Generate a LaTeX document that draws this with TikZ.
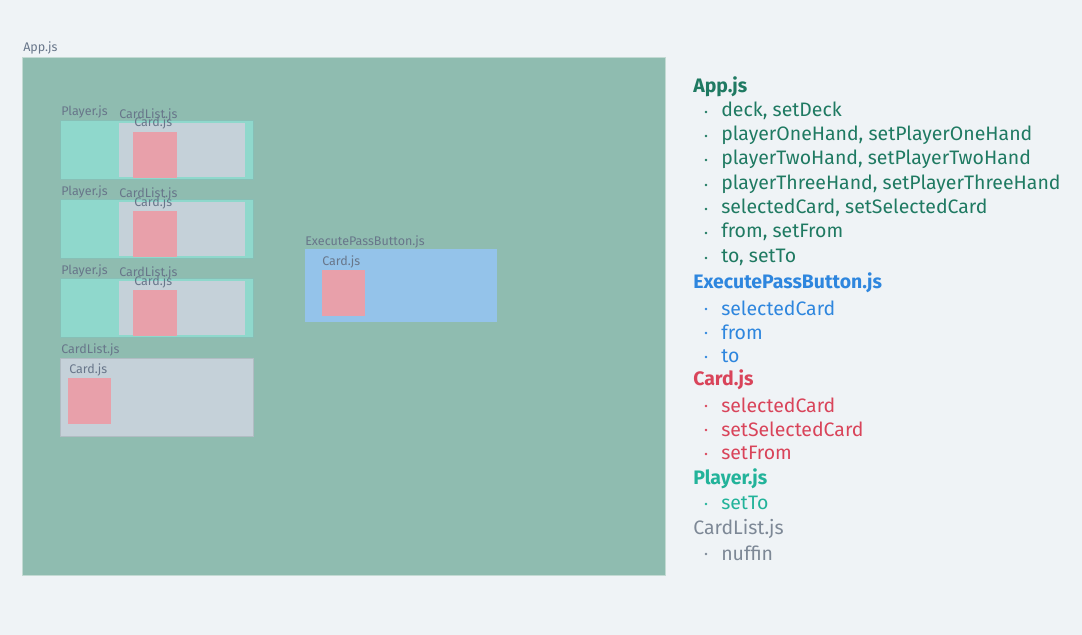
\documentclass[tikz,border=0pt]{standalone}
\usepackage{fontspec}
\setmainfont{Fira Sans}
\definecolor{pagebg}{HTML}{EFF3F6}
\definecolor{appfill}{HTML}{8FBCB0}
\definecolor{appline}{HTML}{C3DAD3}
\definecolor{playerfill}{HTML}{8FD8CC}
\definecolor{listfill}{HTML}{C5D1D9}
\definecolor{cardfill}{HTML}{E8A0AA}
\definecolor{buttonfill}{HTML}{94C3EA}
\definecolor{tagtext}{HTML}{68768A}
\definecolor{appgreen}{HTML}{1F7A62}
\definecolor{buttonblue}{HTML}{2E86DE}
\definecolor{cardred}{HTML}{D9445A}
\definecolor{playerteal}{HTML}{22B39A}
\definecolor{listgray}{HTML}{7D8896}
\tikzset{
  tag/.style={anchor=base west, inner sep=0pt, text=tagtext, font=\fontsize{9.4}{10}\selectfont},
  head/.style={anchor=west, inner sep=0pt, font=\fontsize{14.6}{17}\selectfont\bfseries},
  item/.style={anchor=west, inner sep=0pt, font=\fontsize{14.6}{17}\selectfont},
  dot/.style={circle, inner sep=0pt, minimum size=2.2pt}
}
\begin{document}
\begin{tikzpicture}[x=0.75pt, y=-0.75pt]
  \fill[pagebg] (0,0) rectangle (1082,635);
  \useasboundingbox (0,0) rectangle (1082,635);
  % App.js area
  \draw[fill=appfill, draw=appline] (22,57) rectangle (665,575);
  \node[tag] (applabel) at (23,52) {App.js};
  % three players, each with a card list
  \foreach \yy/\nm in {0/one, 79/two, 158/three} {
    \draw[fill=playerfill, draw=playerfill!85!black!90] (60,120+\yy) rectangle (253,179+\yy);
    \fill[listfill] (119,123+\yy) rectangle (245,177+\yy);
    \fill[cardfill] (133,132+\yy) rectangle (177,178+\yy);
    \node[tag] (player\nm) at (61,116+\yy) {Player.js};
    \node[tag] (list\nm) at (119,118+\yy) {CardList.js};
    \node[tag] (card\nm) at (134,127+\yy) {Card.js};
  }
  % loose card list
  \draw[fill=listfill, draw=listfill!90!black] (60,358) rectangle (253,436);
  \fill[cardfill] (68,378) rectangle (111,424);
  \node[tag] (listfour) at (61,353) {CardList.js};
  \node[tag] (cardfour) at (69,373) {Card.js};
  % pass button
  \fill[buttonfill] (305,249) rectangle (497,322);
  \fill[cardfill] (322,270) rectangle (365,316);
  \node[tag] (buttonlabel) at (305,245) {ExecutePassButton.js};
  \node[tag] (cardfive) at (322,265) {Card.js};
  % legend
  \node[head, text=appgreen] (happ) at (693,87) {App.js};
  \node[dot, fill=appgreen] at (706,112) {};
  \node[item, text=appgreen] (i1) at (721,111) {deck, setDeck};
  \node[dot, fill=appgreen] at (706,136) {};
  \node[item, text=appgreen] (i2) at (721,135) {playerOneHand, setPlayerOneHand};
  \node[dot, fill=appgreen] at (706,160) {};
  \node[item, text=appgreen] (i3) at (721,159) {playerTwoHand, setPlayerTwoHand};
  \node[dot, fill=appgreen] at (706,185) {};
  \node[item, text=appgreen] (i4) at (721,184) {playerThreeHand, setPlayerThreeHand};
  \node[dot, fill=appgreen] at (706,209) {};
  \node[item, text=appgreen] (i5) at (721,208) {selectedCard, setSelectedCard};
  \node[dot, fill=appgreen] at (706,233) {};
  \node[item, text=appgreen] (i6) at (721,232) {from, setFrom};
  \node[dot, fill=appgreen] at (706,258) {};
  \node[item, text=appgreen] (i7) at (721,257) {to, setTo};
  \node[head, text=buttonblue] (hbutton) at (693,283) {ExecutePassButton.js};
  \node[dot, fill=buttonblue] at (706,309) {};
  \node[item, text=buttonblue] (i8) at (721,308) {selectedCard};
  \node[dot, fill=buttonblue] at (706,333) {};
  \node[item, text=buttonblue] (i9) at (721,332) {from};
  \node[dot, fill=buttonblue] at (706,357) {};
  \node[item, text=buttonblue] (i10) at (721,356) {to};
  \node[head, text=cardred] (hcard) at (693,380) {Card.js};
  \node[dot, fill=cardred] at (706,406) {};
  \node[item, text=cardred] (i11) at (721,405) {selectedCard};
  \node[dot, fill=cardred] at (706,430) {};
  \node[item, text=cardred] (i12) at (721,429) {setSelectedCard};
  \node[dot, fill=cardred] at (706,454) {};
  \node[item, text=cardred] (i13) at (721,453) {setFrom};
  \node[head, text=playerteal] (hplayer) at (693,479) {Player.js};
  \node[dot, fill=playerteal] at (706,504) {};
  \node[item, text=playerteal] (i14) at (721,503) {setTo};
  \node[item, text=listgray] (hlist) at (693,529) {CardList.js};
  \node[dot, fill=listgray] at (706,554) {};
  \node[item, text=listgray] (i15) at (721,553) {nuffin};
\end{tikzpicture}
\end{document}
